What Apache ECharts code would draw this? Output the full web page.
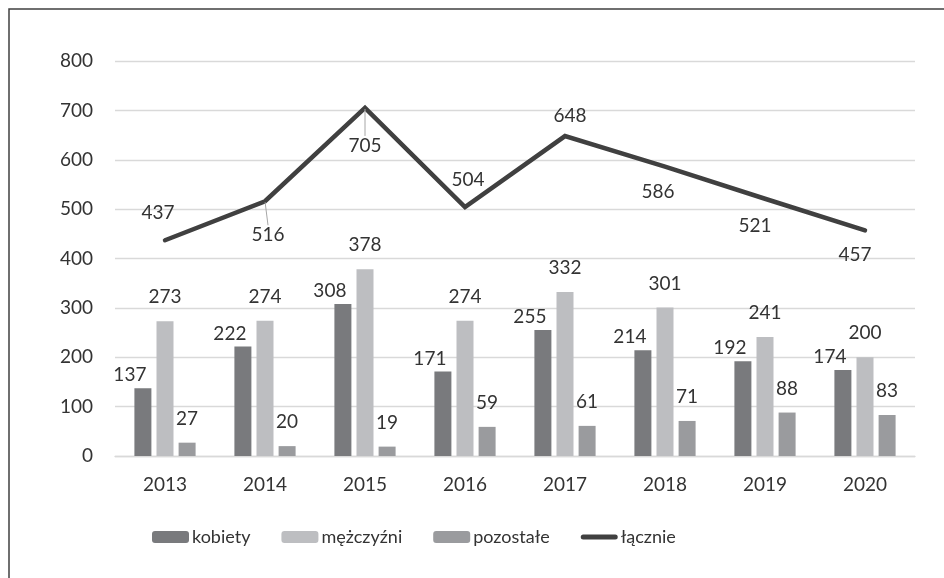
<!DOCTYPE html>
<html>
<head>
<meta charset="utf-8">
<script src="https://cdn.jsdelivr.net/npm/echarts@6/dist/echarts.min.js"></script>
<style>
  html, body { margin: 0; padding: 0; background: #fff; }
  #chart { width: 944px; height: 578px; }
</style>
</head>
<body>
<div id="chart"></div>
<script>
var years = ['2013', '2014', '2015', '2016', '2017', '2018', '2019', '2020'];
var kobiety = [137, 222, 308, 171, 255, 214, 192, 174];
var mezczyzni = [273, 274, 378, 274, 332, 301, 241, 200];
var pozostale = [27, 20, 19, 59, 61, 71, 88, 83];
var lacznie = [437, 516, 705, 504, 648, 586, 521, 457];

// where Excel put the total labels (dx, dy from the point)
var totalLabelShift = [[-7, -27], [3, 34], [0, 38], [3, -27], [5, -20], [-7, 25], [-10, 27], [-10, 25]];
var withLeader = [1, 2];

var font = 'Lato, "Open Sans", sans-serif';
var txt = '#333333';
var lineIcon = 'path://M2.5,0 H34.5 A2.5,2.5 0 0 1 34.5,5 H2.5 A2.5,2.5 0 0 1 2.5,0 Z';

var chart = echarts.init(document.getElementById('chart'));

function barLabel(dx, dist) {
    return {
        show: true,
        position: 'top',
        distance: dist,
        offset: [dx, 0],
        color: txt,
        fontFamily: font,
        fontSize: 19,
        lineHeight: 20
    };
}

chart.setOption({
    animation: false,
    textStyle: {fontFamily: font},
    graphic: [{
        type: 'rect',
        shape: {x: 9, y: 9, width: 1200, height: 1200},
        style: {fill: 'none', stroke: '#404040', lineWidth: 1.5},
        silent: true
    }],
    grid: {left: 115, right: 29, top: 61, bottom: 122},
    legend: {
        left: 152,
        top: 528,
        padding: 0,
        itemWidth: 37,
        itemHeight: 12,
        itemGap: 31,
        symbolKeepAspect: true,
        textStyle: {color: txt, fontSize: 18, fontFamily: font, padding: [0, 0, 0, -2]},
        data: ['kobiety', 'mężczyźni', 'pozostałe', {name: 'łącznie', icon: lineIcon}]
    },
    xAxis: {
        type: 'category',
        data: years,
        axisLine: {lineStyle: {color: '#d9d9d9', width: 1.3}},
        axisTick: {show: false},
        axisLabel: {color: txt, fontSize: 19, fontFamily: font, margin: 19}
    },
    yAxis: {
        type: 'value',
        min: 0,
        max: 800,
        interval: 100,
        axisLine: {show: false},
        axisTick: {show: false},
        splitLine: {lineStyle: {color: '#d9d9d9', width: 1.3}},
        axisLabel: {color: txt, fontSize: 19, fontFamily: font, margin: 22}
    },
    series: [{
        name: 'kobiety',
        type: 'bar',
        data: kobiety,
        barWidth: 17,
        barGap: '30%',
        itemStyle: {color: '#797a7d'},
        label: barLabel(-13, 3)
    }, {
        name: 'mężczyźni',
        type: 'bar',
        data: mezczyzni,
        barWidth: 17,
        barGap: '30%',
        itemStyle: {color: '#bdbec1'},
        label: barLabel(0, 14)
    }, {
        name: 'pozostałe',
        type: 'bar',
        data: pozostale,
        barWidth: 17,
        barGap: '30%',
        itemStyle: {color: '#9a9b9e'},
        label: barLabel(0, 14)
    }, {
        name: 'łącznie',
        type: 'line',
        data: lacznie.map(function (v, i) {
            return {value: v, labelLine: {show: withLeader.indexOf(i) >= 0}};
        }),
        symbol: 'circle',
        symbolSize: 2,
        itemStyle: {color: '#404040'},
        lineStyle: {color: '#404040', width: 4.5, cap: 'round', join: 'miter'},
        label: {
            show: true,
            position: 'inside',
            color: txt,
            fontFamily: font,
            fontSize: 19,
            lineHeight: 20
        },
        labelLine: {lineStyle: {color: '#a6a6a6', width: 1}},
        labelLayout: function (p) {
            var s = totalLabelShift[p.dataIndex];
            return {dx: s[0], dy: s[1]};
        },
        z: 5
    }]
});
</script>
</body>
</html>
